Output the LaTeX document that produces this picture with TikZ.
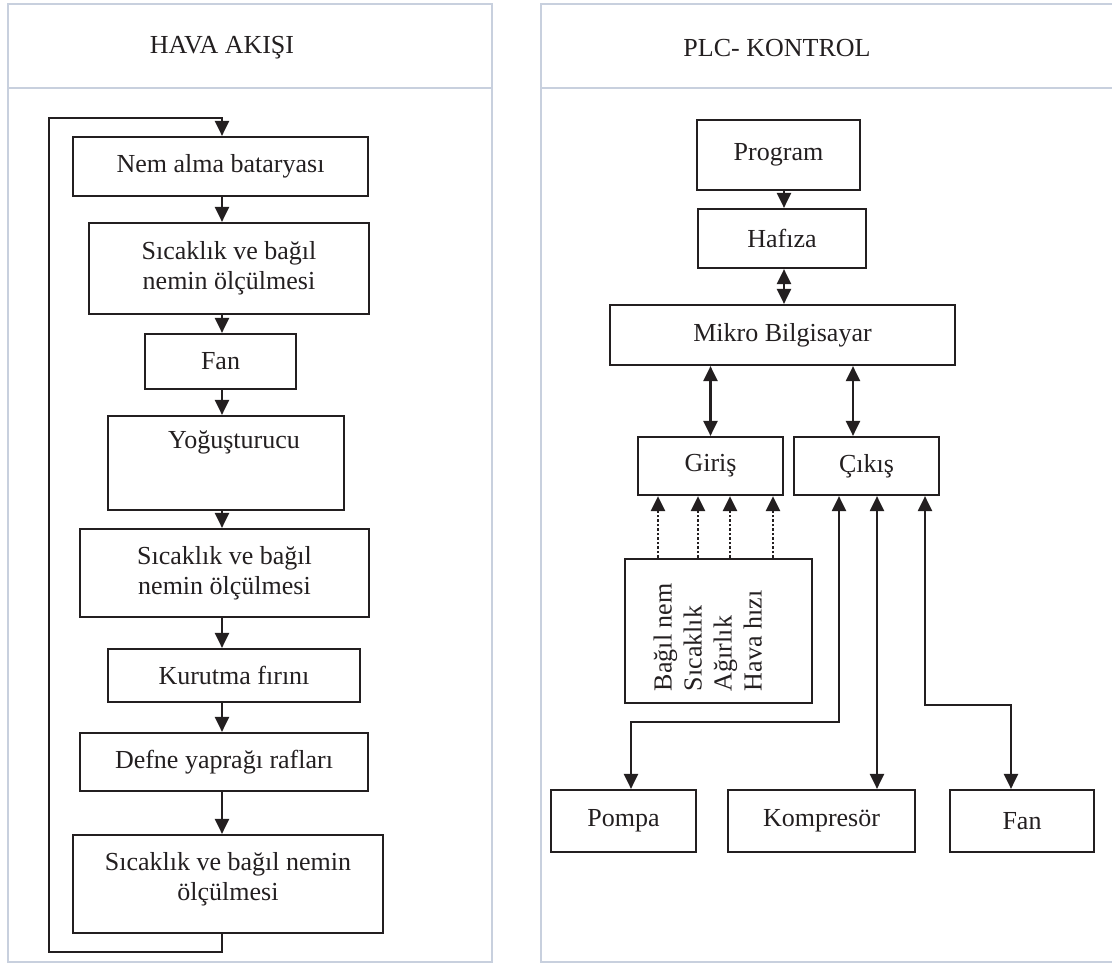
\documentclass[tikz,border=0pt]{standalone}
\usepackage{fontspec}
\setmainfont{Liberation Serif}
\usepackage{graphicx}
\usetikzlibrary{arrows.meta}
\definecolor{ink}{RGB}{35,31,32}
\definecolor{rule}{RGB}{200,208,222}
\tikzstyle{box} = [rectangle, draw=ink, line width=2.2pt, inner sep=0pt, align=center, text=ink]
\tikzstyle{head} = [draw=rule, line width=1.5pt]
\tikzstyle{flow} = [draw=ink, line width=2.2pt, -{Triangle[length=15pt,width=14pt]}]
\tikzstyle{dflow} = [draw=ink, line width=2.2pt, {Triangle[length=15pt,width=14pt]}-{Triangle[length=15pt,width=14pt]}]
\tikzstyle{sense} = [draw=ink, line width=2.6pt, dash pattern=on 2.5pt off 2pt, -{Triangle[length=15pt,width=14pt]}]

\begin{document}
\begin{tikzpicture}[x=1pt, y=-1pt, font=\fontsize{26}{30}\selectfont]
	\useasboundingbox (0,0) rectangle (1112,972);
	\draw[head] (8,4) rectangle (492,962);
	\draw[head] (8,88) -- (492,88);
	\draw[head] (1112,4) -| (541,962) -- (1112,962);
	\draw[head] (541,88) -- (1112,88);
	\node (hava) at (222, 48) [text=ink] {HAVA AKIŞI};
	\node (plc) at (777, 48) [text=ink] {PLC- KONTROL};

	\coordinate (axis) at (222, 0);
	\coordinate (loopbl) at (49, 952);
	\coordinate (looptl) at (49, 118);
	\node (nem) at (220.5, 166.5) [box, minimum width=295pt, minimum height=59pt] {Nem alma bataryası};
	\node (olca) at (229, 268.5) [box, minimum width=280pt, minimum height=91pt] {Sıcaklık ve bağıl\\nemin ölçülmesi};
	\node (fanl) at (220.5, 361.5) [box, minimum width=151pt, minimum height=55pt] {Fan};
	\node (yog) at (226, 463) [box, minimum width=236pt, minimum height=94pt, text height=18pt, text depth=48pt] {\hspace*{16pt}Yoğuşturucu};
	\node (olcb) at (224.5, 573) [box, minimum width=289pt, minimum height=88pt] {Sıcaklık ve bağıl\\nemin ölçülmesi};
	\node (kur) at (234, 675.5) [box, minimum width=252pt, minimum height=53pt] {Kurutma fırını};
	\node (defne) at (224, 762) [box, minimum width=288pt, minimum height=58pt] {Defne yaprağı rafları};
	\node (olcc) at (228, 884) [box, minimum width=310pt, minimum height=98pt, text depth=16pt] {Sıcaklık ve bağıl nemin\\ölçülmesi};
	\draw[flow] (nem.south -| axis) -- (olca.north -| axis);
	\draw[flow] (olca.south -| axis) -- (fanl.north -| axis);
	\draw[flow] (fanl.south -| axis) -- (yog.north -| axis);
	\draw[flow] (yog.south -| axis) -- (olcb.north -| axis);
	\draw[flow] (olcb.south -| axis) -- (kur.north -| axis);
	\draw[flow] (kur.south -| axis) -- (defne.north -| axis);
	\draw[flow] (defne.south -| axis) -- (olcc.north -| axis);
	\draw[flow] (olcc.south -| axis) |- (loopbl) -- (looptl) -| (nem.north -| axis);

	\coordinate (pcol) at (784, 0);
	\coordinate (ccol) at (853, 0);
	\coordinate (pbend) at (839, 722);
	\coordinate (pdrop) at (631, 722);
	\coordinate (kcol) at (877, 0);
	\coordinate (fbend) at (925, 705);
	\coordinate (fdrop) at (1011, 705);
	\node (prog) at (778.5, 155) [box, minimum width=163pt, minimum height=70pt] {Program};
	\node (haf) at (782, 238.5) [box, minimum width=168pt, minimum height=59pt] {Hafıza};
	\node (mikro) at (782.5, 335) [box, minimum width=345pt, minimum height=60pt] {Mikro Bilgisayar};
	\node (giris) at (710.5, 466) [box, minimum width=145pt, minimum height=58pt] {Giriş};
	\node (cikis) at (866.5, 466) [box, minimum width=145pt, minimum height=58pt] {Çıkış};
	\node (sensor) at (718.5, 631) [box, minimum width=187pt, minimum height=144pt, text height=120pt] {\hspace*{-16pt}\rotatebox{90}{\begin{tabular}{@{}l@{}}Bağıl nem\\Sıcaklık\\Ağırlık\\Hava hızı\end{tabular}}};
	\node (pompa) at (623.5, 821) [box, minimum width=145pt, minimum height=62pt] {Pompa};
	\node (komp) at (821.5, 821) [box, minimum width=187pt, minimum height=62pt] {Kompresör};
	\node (fanr) at (1022, 821) [box, minimum width=144pt, minimum height=62pt] {Fan};
	\draw[flow] (prog.south -| pcol) -- (haf.north -| pcol);
	\draw[dflow] (haf.south -| pcol) -- (mikro.north -| pcol);
	\draw[dflow] (mikro.south -| giris.north) -- (giris.north);
	\draw[dflow] (mikro.south -| ccol) -- (cikis.north -| ccol);
	\foreach \x in {658,698,730,773}
		\draw[sense] (\x,0 |- sensor.north) -- (\x,0 |- giris.south);
	\draw[dflow] (cikis.south -| pbend) -- (pbend) -- (pdrop) -- (pompa.north -| pdrop);
	\draw[dflow] (cikis.south -| kcol) -- (komp.north -| kcol);
	\draw[dflow] (cikis.south -| fbend) -- (fbend) -- (fdrop) -- (fanr.north -| fdrop);
\end{tikzpicture}
\end{document}
